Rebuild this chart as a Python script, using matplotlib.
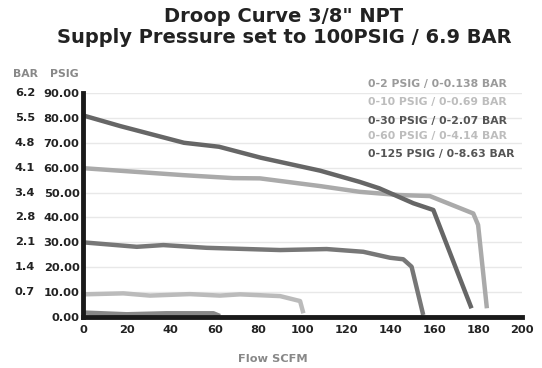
import matplotlib
matplotlib.use("Agg")
import matplotlib.pyplot as plt
from matplotlib.transforms import blended_transform_factory

plt.rcParams['font.family'] = ['DejaVu Sans']

# Data (Flow SCFM vs outlet pressure PSIG)
flow_125 = [0, 17, 46, 62, 81, 108, 126, 135, 150.5, 159.6, 177]
psig_125 = [81, 76.7, 70.0, 68.4, 64.0, 58.8, 54.3, 51.7, 45.7, 43.0, 3.5]

flow_60 = [0, 45.6, 68.3, 80.6, 108, 126, 144, 158, 177.8, 180, 184]
psig_60 = [59.8, 57.0, 55.8, 55.7, 52.6, 50.3, 49.0, 48.6, 41.6, 37.0, 3.5]

flow_30 = [0, 24.5, 36.6, 56.3, 89.8, 111, 127.7, 139.9, 145.9, 149.7, 155]
psig_30 = [30.0, 28.2, 28.9, 27.8, 26.9, 27.3, 26.2, 23.8, 23.2, 20.2, 0.8]

flow_10 = [0, 18.4, 30.5, 48.7, 62.4, 71.5, 89.8, 98.9, 100.4]
psig_10 = [9.1, 9.5, 8.6, 9.2, 8.6, 9.1, 8.4, 6.4, 1.5]

flow_2 = [0, 19.9, 38, 59.4, 62.4]
psig_2 = [1.8, 1.1, 1.5, 1.5, 0.4]

psig_ticks = [0, 10, 20, 30, 40, 50, 60, 70, 80, 90]
psig_labels = ["0.00", "10.00", "20.00", "30.00", "40.00", "50.00", "60.00", "70.00", "80.00", "90.00"]
bar_labels = ["", "0.7", "1.4", "2.1", "2.8", "3.4", "4.1", "4.8", "5.5", "6.2"]
x_ticks = [0, 20, 40, 60, 80, 100, 120, 140, 160, 180, 200]

legend_labels = ["0-2 PSIG / 0-0.138 BAR", "0-10 PSIG / 0-0.69 BAR", "0-30 PSIG / 0-2.07 BAR",
                 "0-60 PSIG / 0-4.14 BAR", "0-125 PSIG / 0-8.63 BAR"]
legend_colors = ["#9a9a9a", "#bdbdbd", "#555555", "#bdbdbd", "#555555"]

W, H = 542, 368
fig = plt.figure(figsize=(W / 100, H / 100), dpi=100)
ax = fig.add_axes([83 / W, 1 - 317 / H, (522 - 83) / W, (317 - 93) / H])

ax.set_xlim(0, 200)
ax.set_ylim(0, 90)

for y in psig_ticks[1:]:
    ax.axhline(y, color="#e8e8e8", lw=1.0, zorder=0)

lw = 3.2
ax.plot(flow_2, psig_2, color="#888888", lw=lw, solid_capstyle="butt", zorder=3)
ax.plot(flow_10, psig_10, color="#bbbbbb", lw=lw, solid_capstyle="butt", zorder=3)
ax.plot(flow_30, psig_30, color="#777777", lw=lw, solid_capstyle="butt", zorder=3)
ax.plot(flow_60, psig_60, color="#aaaaaa", lw=lw, solid_capstyle="butt", zorder=3)
ax.plot(flow_125, psig_125, color="#666666", lw=lw, solid_capstyle="butt", zorder=3)

for s in ["top", "right"]:
    ax.spines[s].set_visible(False)
for s in ["left", "bottom"]:
    ax.spines[s].set_linewidth(3.5)
    ax.spines[s].set_color("#1a1a1a")
    ax.spines[s].set_zorder(4)

tick_fs = 8.2
ax.set_xticks(x_ticks)
ax.set_xticklabels([str(v) for v in x_ticks], fontsize=tick_fs, fontweight="bold", color="#222222")
ax.set_yticks(psig_ticks)
ax.set_yticklabels(psig_labels, fontsize=tick_fs, fontweight="bold", color="#222222")
ax.tick_params(axis="both", length=0)
ax.tick_params(axis="x", pad=6)
ax.tick_params(axis="y", pad=2.5)

# BAR labels column
tr = blended_transform_factory(fig.transFigure, ax.transData)
for y, lab in zip(psig_ticks, bar_labels):
    if lab:
        ax.text(35 / W, y, lab, transform=tr, ha="right", va="center",
                fontsize=tick_fs, fontweight="bold", color="#222222", clip_on=False)

fig.text(13 / W, 1 - 77 / H, "BAR", ha="left", va="baseline", fontsize=7.8, fontweight="bold", color="#888888")
fig.text(79 / W, 1 - 77 / H, "PSIG", ha="right", va="baseline", fontsize=7.8, fontweight="bold", color="#888888")

# Legend as colored text
ys = [86.7, 104.7, 124, 139, 156.7]
for lab, c, yp in zip(legend_labels, legend_colors, ys):
    fig.text(368 / W, 1 - yp / H, lab, ha="left", va="baseline", fontsize=7.8, fontweight="bold", color=c)

fig.text(284 / W, 1 - 22 / H, 'Droop Curve 3/8" NPT', ha="center", va="baseline",
         fontsize=14, fontweight="bold", color="#222222")
fig.text(284 / W, 1 - 43 / H, "Supply Pressure set to 100PSIG / 6.9 BAR", ha="center", va="baseline",
         fontsize=14, fontweight="bold", color="#222222")

fig.text(273 / W, 1 - 359 / H, "Flow SCFM", ha="center", va="center",
         fontsize=8.2, fontweight="bold", color="#888888")

fig.savefig("out.png", dpi=100)
